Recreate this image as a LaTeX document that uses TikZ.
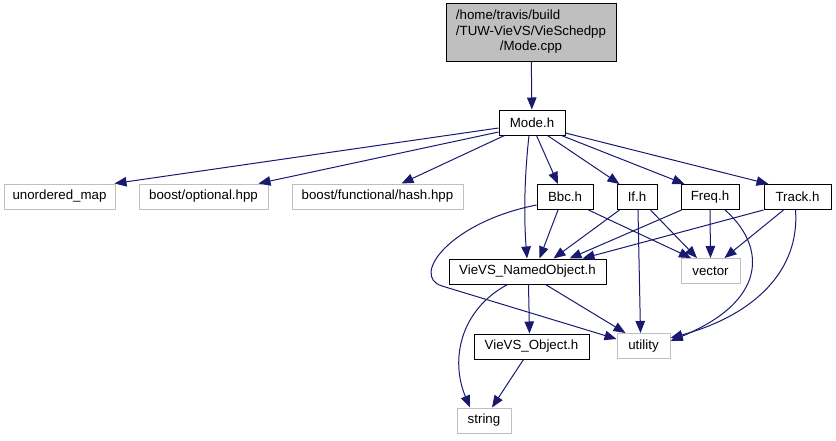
\documentclass[tikz,border=0pt]{standalone}
\usepackage{fontspec}
\setmainfont{Liberation Sans}
\usetikzlibrary{arrows.meta}
\definecolor{edgeblue}{HTML}{191970}
\definecolor{boxgray}{HTML}{BFBFBF}
\begin{document}
\begin{tikzpicture}[x=1pt,y=-1pt,
  every node/.style={font=\fontsize{13.3}{15.5}\selectfont, inner sep=0pt, minimum height=25pt},
  fb/.style={draw=black, line width=1pt, rectangle},
  gb/.style={draw=boxgray, line width=1pt, rectangle},
  dep/.style={draw=edgeblue, line width=1pt, -{Triangle[length=12pt,width=9.5pt]}}]
\useasboundingbox (0,0) rectangle (836,440);
\node[fb, fill=boxgray, minimum width=170pt, minimum height=58pt] (src) at (531,32)
  {\begin{tabular}{@{}l@{}}/home/travis/build\\/TUW-VieVS/VieSchedpp\\\multicolumn{1}{@{}c@{}}{/Mode.cpp}\end{tabular}};
\node[fb, minimum width=66pt] (mode) at (532,122.5) {Mode.h};
\node[gb, minimum width=111pt] (umap) at (59.5,196.5) {unordered\_map};
\node[gb, minimum width=129pt] (opt) at (203.5,196.5) {boost/optional.hpp};
\node[gb, minimum width=171pt] (hash) at (377.5,196.5) {boost/functional/hash.hpp};
\node[fb, minimum width=56pt] (bbc) at (565,197) {Bbc.h};
\node[fb, minimum width=40pt] (if) at (637,197) {If.h};
\node[fb, minimum width=58pt] (freq) at (710,197) {Freq.h};
\node[fb, minimum width=67pt] (track) at (797.5,197) {Track.h};
\node[fb, minimum width=157pt] (named) at (527.5,271.5) {VieVS\_NamedObject.h};
\node[gb, minimum width=59pt] (vector) at (710.5,271) {vector};
\node[fb, minimum width=115pt] (object) at (531.5,346.5) {VieVS\_Object.h};
\node[gb, minimum width=53pt] (utility) at (643.5,346) {utility};
\node[gb, minimum width=54pt] (string) at (484,420.5) {string};

\draw[dep] (src) -- (mode);
\draw[dep] ([yshift=-5.5pt]mode.west) -- ([xshift=-1pt]umap.north east);
\draw[dep] ([yshift=-9.5pt]mode.west) -- ([xshift=-10pt]opt.north east);
\draw[dep] ([xshift=6pt]mode.south west) -- ([xshift=24pt]hash.north);
\draw[dep] ([xshift=38pt]mode.south west) -- ([xshift=-7pt]bbc.north);
\draw[dep] ([xshift=49pt]mode.south west) -- ([xshift=3pt]if.north west);
\draw[dep] ([xshift=-4pt]mode.south east) -- ([xshift=4pt]freq.north west);
\draw[dep] ([yshift=-10.5pt]mode.east) -- ([xshift=5pt]track.north west);
\draw[dep] ([xshift=-3pt]mode.south) .. controls (524,180) and (524,220) .. ([xshift=-0.5pt]named.north);

\draw[dep] ([xshift=-7pt]bbc.south) -- ([xshift=12pt]named.north);
\draw[dep] ([xshift=-5pt]bbc.south east) -- ([xshift=-19.5pt]vector.north);
\draw[dep] ([yshift=-8pt]bbc.west) .. controls (450,222) and (410,276) .. (442,286) -- ([yshift=7pt]utility.west);

\draw[dep] ([xshift=3pt]if.south west) -- ([xshift=26pt]named.north);
\draw[dep] ([xshift=-7pt]if.south east) -- ([xshift=-13.5pt]vector.north);
\draw[dep] ([xshift=1pt]if.south) -- ([xshift=-3pt]utility.north);

\draw[dep] ([xshift=1pt]freq.south west) -- ([xshift=42pt]named.north);
\draw[dep] (freq.south) -- (vector.north);
\draw[dep] ([xshift=15pt]freq.south) .. controls (765,245) and (770,300) .. ([yshift=5pt]utility.east);

\draw[dep] (track.south west) -- ([xshift=55pt]named.north);
\draw[dep] ([xshift=-14pt]track.south) -- ([xshift=14pt]vector.north);
\draw[dep] ([xshift=-2pt]track.south) .. controls (800,270) and (755,315) .. ([yshift=8pt]utility.east);

\draw[dep] ([xshift=18pt]named.south) -- ([xshift=-18pt]utility.north);
\draw[dep] ([xshift=1pt]named.south) -- ([xshift=-2pt]object.north);
\draw[dep] ([xshift=-20pt]named.south) .. controls (460,310) and (450,360) .. ([xshift=-14pt]string.north);
\draw[dep] ([xshift=-8pt]object.south) -- ([xshift=8pt]string.north);
\end{tikzpicture}
\end{document}
